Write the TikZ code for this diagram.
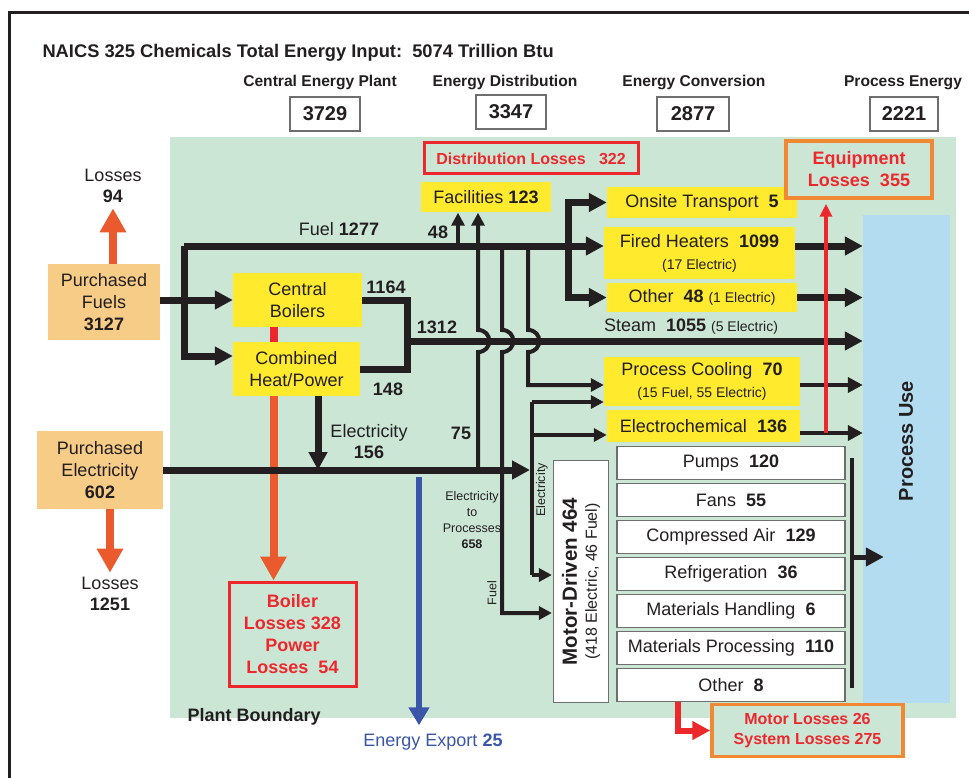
\documentclass[tikz,border=0pt]{standalone}
\usepackage{fontspec}
\setmainfont{Liberation Sans}
\usetikzlibrary{arrows.meta}
\usetikzlibrary{positioning}
\definecolor{plantgreen}{RGB}{204,230,214}
\definecolor{procblue}{RGB}{179,220,240}
\definecolor{boxyellow}{RGB}{255,234,46}
\definecolor{buyorange}{RGB}{247,204,135}
\definecolor{lossorange}{RGB}{234,90,45}
\definecolor{lossred}{RGB}{237,40,45}
\definecolor{frameorange}{RGB}{240,136,52}
\definecolor{exportblue}{RGB}{58,86,168}
\definecolor{ink}{RGB}{35,31,32}
\definecolor{boxgray}{RGB}{110,110,110}
\def\pxfont#1#2{\fontsize{#1}{#2}\selectfont}
\tikzset{
  flow/.style={line width=7pt,draw=ink,-{Triangle[length=18pt,width=18pt]}},
  flow line/.style={line width=7pt,draw=ink},
  thin flow/.style={line width=4pt,draw=ink,-{Triangle[length=15pt,width=15pt]}},
  pipe/.style={line width=4pt,draw=ink,-{Triangle[length=13pt,width=13pt]}},
  pipe line/.style={line width=4pt,draw=ink},
  buy/.style={fill=buyorange,text=ink,align=center,inner sep=0pt,font=\pxfont{18}{22}},
  plant/.style={fill=boxyellow,text=ink,align=center,inner sep=0pt,font=\pxfont{18}{22}},
  motor/.style={draw=boxgray,line width=1.2pt,fill=white,text=ink,minimum width=228pt,minimum height=33pt,inner sep=0pt,font=\pxfont{18}{22}},
  stage/.style={text=ink,font=\pxfont{15.6}{18}\bfseries},
  total/.style={draw=boxgray,line width=1.4pt,fill=white,text=ink,minimum height=34pt,inner sep=0pt,font=\pxfont{20}{24}\bfseries},
  loss box/.style={fill=plantgreen,draw=lossred,line width=3pt,text=lossred,align=center,inner sep=0pt,font=\pxfont{18}{22}\bfseries},
  loss arrow/.style={line width=8pt,draw=lossorange,-{Triangle[length=24pt,width=25pt]}},
  red arrow/.style={line width=3.5pt,draw=lossred,-{Triangle[length=13pt,width=12pt]}},
  txt/.style={text=ink,align=center,font=\pxfont{18}{21}},
  amount/.style={text=ink,font=\pxfont{18}{21}\bfseries},
  smalltxt/.style={text=ink,align=center,font=\pxfont{12.5}{16}}
}

\begin{document}
\begin{tikzpicture}[x=1pt,y=-1pt]
\useasboundingbox (0,0) rectangle (969,778);

% Frame and plant boundary
\draw[line width=3pt,ink] (9,778) -- (9,13) -- (969,13);
\fill[plantgreen] (170,137) rectangle (956,718);
\node[fill=procblue,minimum width=87pt,minimum height=488pt,inner sep=0pt] (pu) at (906.5,459) {};
\node[rotate=90,text=ink,font=\pxfont{20}{24}\bfseries] (putext) at (906,441) {Process Use};
\node[text=ink,anchor=west,font=\pxfont{18}{21}\bfseries] (boundary) at (184,717) {Plant Boundary};

% Title and stage totals
\node[anchor=west,text=ink,font=\pxfont{18.3}{22}\bfseries] (title) at (39,53) {NAICS 325 Chemicals Total Energy Input:\ \ 5074 Trillion Btu};
\node[stage] (cep) at (320,83) {Central Energy Plant};
\node[stage] (edist) at (505,83) {Energy Distribution};
\node[stage] (econv) at (694,83) {Energy Conversion};
\node[stage] (pen) at (903,83) {Process Energy};
\node[total,minimum width=70pt] (ncep) at (325,114) {3729};
\node[total,minimum width=70pt] (nedist) at (511,112) {3347};
\node[total,minimum width=72pt] (neconv) at (693,114) {2877};
\node[total,minimum width=68pt] (npen) at (904,114) {2221};

% Purchased energy
\node[buy,minimum width=112pt,minimum height=76pt] (pf) at (104,302) {Purchased\\Fuels\\\textbf{3127}};
\node[buy,minimum width=126pt,minimum height=78pt] (pe) at (100,470) {Purchased\\Electricity\\\textbf{602}};
\node[txt] (loss1) at (113,186) {Losses\\\textbf{94}};
\node[txt] (loss2) at (110,594) {Losses\\\textbf{1251}};
\draw[loss arrow] (pf.north -| loss1) -- ([yshift=-2pt]loss1.south);
\draw[loss arrow] (pe.south -| loss2) -- ([yshift=1pt]loss2.north);

% Central energy plant
\node[plant,minimum width=129pt,minimum height=54pt] (cb) at (297.5,300) {Central\\Boilers};
\node[plant,minimum width=127pt,minimum height=54pt] (chp) at (296.5,369) {Combined\\Heat/Power};
\draw[line width=8pt,lossred] ([xshift=-24pt]cb.south) -- ([xshift=-24pt]cb.south |- chp.north);
\node[loss box,minimum width=127pt,minimum height=104pt] (bl) at (292.5,634) {Boiler\\Losses 328\\Power\\Losses\ \ 54};
\draw[loss arrow] ([xshift=-23pt]chp.south) -- ([xshift=-23pt]chp.south |- bl.north);

\coordinate (fj) at (184,300);
\coordinate (fuel) at (184,246);
\coordinate (sj) at (407,341);
\draw[flow] (pf.east |- cb.west) -- (cb.west);
\draw[flow] (fuel) |- ([yshift=13pt]chp.west);
\draw[flow line] (cb.east) -| (sj);
\draw[flow line] (chp.east) -| (sj);
\node[amount] (l1164) at (386,287) {1164};
\node[amount] (l148) at (388,389) {148};
\node[amount] (l1312) at (437,327) {1312};
\node[txt] (lfuel) at (339,229) {Fuel \textbf{1277}};

% Electricity
\coordinate (e156) at (318,470);
\coordinate (etip) at (530,470);
\draw[flow] (chp.south -| e156) -- (e156);
\node[txt] (lelec) at (369,442) {Electricity\\\textbf{156}};
\draw[flow] (pe.east) -- (etip);

% Conversion
\coordinate (br) at (568,246);
\node[plant,minimum width=190pt,minimum height=31pt] (ot) at (702,202.5) {Onsite Transport\ \ \textbf{5}};
\node[plant,minimum width=191pt,minimum height=52pt] (fh) at (699.5,253) {Fired Heaters\ \ \textbf{1099}\\{\pxfont{14}{17}(17 Electric)}};
\node[plant,minimum width=190pt,minimum height=29pt] (oth) at (702,297.5) {Other\ \ \textbf{48} {\pxfont{14}{17}(1 Electric)}};
\node[plant,minimum width=196pt,minimum height=49pt] (pc) at (702,381) {Process Cooling\ \ \textbf{70}\\{\pxfont{14}{17}(15 Fuel, 55 Electric)}};
\node[plant,minimum width=193pt,minimum height=32pt] (ec) at (703.5,426) {Electrochemical\ \ \textbf{136}};
\node[txt] (lsteam) at (691,327) {Steam\ \ \textbf{1055} {\pxfont{14}{17}(5 Electric)}};

% Motor-driven systems
\node[draw=boxgray,line width=1.2pt,fill=white,minimum width=55pt,minimum height=242pt,inner sep=0pt] (md) at (581,581.5) {};
\node[rotate=90,text=ink,align=center,font=\pxfont{16}{20}] (mdtext) at (md) {{\pxfont{20.5}{24}\bfseries Motor-Driven 464}\\(418 Electric, 46 Fuel)};
\node[smalltxt,rotate=90] (lelec2) at (542,490) {Electricity};
\node[smalltxt,rotate=90] (lfuel2) at (492,593) {Fuel};

\foreach \i/\what/\amount in {1/Pumps/120,2/Fans/55,3/Compressed Air/129,4/Refrigeration/36,5/Materials Handling/6,6/Materials Processing/110,7/Other/8}
  \node[motor] (m\i) at (731,426+37*\i) {\what\ \ \textbf{\amount}};

% Distribution
\node[loss box,font=\pxfont{16}{19}\bfseries,minimum width=214pt,minimum height=31pt] (dl) at (531,158.5) {Distribution Losses\ \ \ 322};
\node[plant,minimum width=130pt,minimum height=30pt] (fac) at (486,197.5) {Facilities \textbf{123}};
\node[amount] (l48) at (438,232) {48};
\node[amount] (l75) at (461,433) {75};
\node[smalltxt] (l658) at (472,520) {Electricity\\to\\Processes\\\textbf{658}};
\coordinate (f48) at (458,246);
\coordinate (e75) at (478,470);
\coordinate (fmd) at (502,246);
\coordinate (fpc) at (528,246);
\coordinate (fpc2) at (528,385);
\coordinate (ev0) at (532,402);
\coordinate (ev1) at (532,435);
\coordinate (ev2) at (532,575);
\coordinate (fm) at (502,613);
\draw[pipe] (f48) -- (f48 |- fac.south);
\draw[pipe] (e75) -- (478,352) .. controls (493,352) and (493,330) .. (478,330) -- (e75 |- fac.south);
\draw[pipe] (fmd) -- (502,330) .. controls (517,330) and (517,352) .. (502,352) -- (fm) -- ([xshift=-1pt]fm -| md.west);
\draw[pipe] (fpc) -- (528,330) .. controls (543,330) and (543,352) .. (528,352) -- (fpc2) -- (fpc2 -| pc.west);
\draw[pipe line] (ev0) -- (ev2);
\draw[pipe] (ev0) -- (ev0 -| pc.west);
\draw[pipe] (ev1) -- (ev1 -| ec.west);
\draw[pipe] (ev2) -- ([xshift=-1pt]ev2 -| md.west);

\draw[flow] (fuel) -- (fuel -| fh.west);
\draw[flow] (br) |- (ot.west);
\draw[flow] (br) |- (oth.west);

\coordinate (mt) at (852,458);
\coordinate (mb) at (852,688);
\coordinate (mc) at (852,557);
\draw[pipe line] (mt) -- (mb);
\draw[flow,line width=5pt] (mc) -- ([xshift=21pt]mc -| pu.west);

% Process use
\draw[flow] (fh.east |- fuel) -- (fuel -| pu.west);
\draw[flow] (oth.east) -- (oth.east -| pu.west);
\draw[flow] (sj) -- (sj -| pu.west);
\draw[thin flow] ([yshift=-4pt]pc.east) -- ([yshift=-4pt]pc.east -| pu.west);
\draw[thin flow] ([yshift=-7pt]ec.east) -- ([yshift=-7pt]ec.east -| pu.west);

% Losses
\node[loss box,draw=frameorange,line width=3.5pt,minimum width=146pt,minimum height=57pt] (el) at (859,169.5) {Equipment\\Losses\ \ 355};
\coordinate (eqb) at (826,433);
\draw[red arrow] (eqb) -- ([yshift=-4pt]eqb |- el.south);
\node[loss box,draw=frameorange,line width=3.5pt,font=\pxfont{16}{20}\bfseries,minimum width=191pt,minimum height=52pt] (ml) at (807.5,730.5) {Motor Losses 26\\System Losses 275};
\draw[line width=6pt,lossred,-{Triangle[length=18pt,width=18pt]}] ([xshift=-53pt]m7.south) |- (ml.west);

% Export
\coordinate (xp) at (419,477);
\node[text=exportblue,font=\pxfont{18}{21}] (exp) at (433,742) {Energy Export \textbf{25}};
\draw[line width=6pt,exportblue,-{Triangle[length=18pt,width=20pt]}] (xp) -- ([yshift=5pt]xp |- exp.north);
\end{tikzpicture}
\end{document}
